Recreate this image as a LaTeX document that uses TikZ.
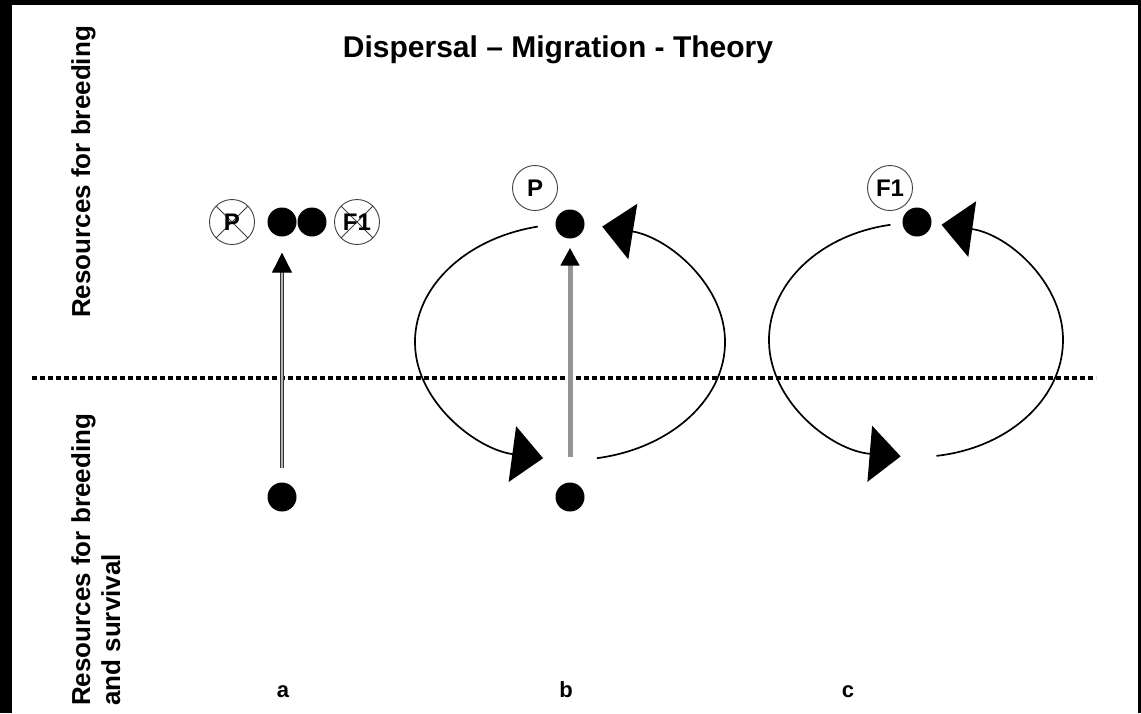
\documentclass[tikz,border=0pt]{standalone}
\usepackage{fontspec}
\setmainfont{Liberation Sans}
\usetikzlibrary{arrows.meta}
\begin{document}
\begin{tikzpicture}[x=1pt,y=-1pt,
  dot/.style={circle,fill=black,inner sep=0pt,minimum size=29pt},
  tag/.style={circle,draw=black!75,line width=0.9pt,inner sep=0pt,minimum size=45pt,font=\fontsize{24}{28}\selectfont\bfseries},
  crossed/.style={tag,path picture={\draw[black!75,line width=0.8pt]
      (path picture bounding box.north west)--(path picture bounding box.south east)
      (path picture bounding box.north east)--(path picture bounding box.south west);}},
  loopline/.style={line width=1.7pt,-{Triangle[length=31pt,width=56pt]}},
  sidelabel/.style={rotate=90,inner sep=0pt,font=\fontsize{26}{30}\selectfont\bfseries},
  panellabel/.style={anchor=base,font=\fontsize{22}{26}\selectfont\bfseries},
  divider/.style={line width=4pt,dash pattern=on 5pt off 3pt},
  dblarrow/.style={draw=black!80,line width=1.1pt,double=black!30,double distance=1.6pt,
      -{Triangle[length=20pt,width=20pt,color=black,fill=black]}},
  greyarrow/.style={draw=black!42,line width=5pt,-{Triangle[length=18pt,width=18pt,color=black,fill=black]}}
]
% frame
\fill[black] (0,0) rectangle (1141,713);
\fill[white] (12,5) rectangle (1138,713);
\useasboundingbox (0,0) rectangle (1141,713);

% title
\node[font=\fontsize{30}{35}\selectfont\bfseries] (title) at (558,50) {Dispersal – Migration - Theory};

% side labels
\node[sidelabel,anchor=north] (upper) at (71,172) {Resources for breeding};
\node[sidelabel,anchor=north west,align=left] (lower) at (71,706) {Resources for breeding\\and survival};

% divider
\coordinate (dl) at (32,378);
\coordinate (dr) at (1096,378);
\draw[divider] (dl) -- (dr);

% panel a
\node[crossed] (pa) at (232,222) {P};
\node[dot] (a1) at (282,222) {};
\node[dot] (a2) at (312,222) {};
\node[crossed] (fa) at (357,222) {F1};
\node[dot] (a0) at (282,497) {};
\draw[dblarrow,shorten <=14pt,shorten >=16pt] (a0) -- (a1);

% panel b
\node[tag] (pb) at (535,188) {P};
\node[dot] (b1) at (570,224) {};
\node[dot] (b0) at (570,497) {};
\draw[greyarrow,shorten <=25pt,shorten >=9pt] (b0) -- (b1);
\draw[loopline] ({570+155*cos(102)},{342-118*sin(102)}) arc[start angle=102,end angle=260,x radius=155pt,y radius=118pt];
\draw[loopline] ({570+155*cos(280)},{342-118*sin(280)}) arc[start angle=280,end angle=438,x radius=155pt,y radius=118pt];

% panel c
\node[tag] (fc) at (890,188) {F1};
\node[dot] (c1) at (917,222) {};
\draw[loopline] ({916+147*cos(100)},{340-117*sin(100)}) arc[start angle=100,end angle=264,x radius=147pt,y radius=117pt];
\draw[loopline] ({916+147*cos(278)},{340-117*sin(278)}) arc[start angle=278,end angle=440,x radius=147pt,y radius=117pt];

% panel labels
\node[panellabel] (la) at (283,697) {a};
\node[panellabel] (lb) at (566,697) {b};
\node[panellabel] (lc) at (848,697) {c};
\end{tikzpicture}
\end{document}
